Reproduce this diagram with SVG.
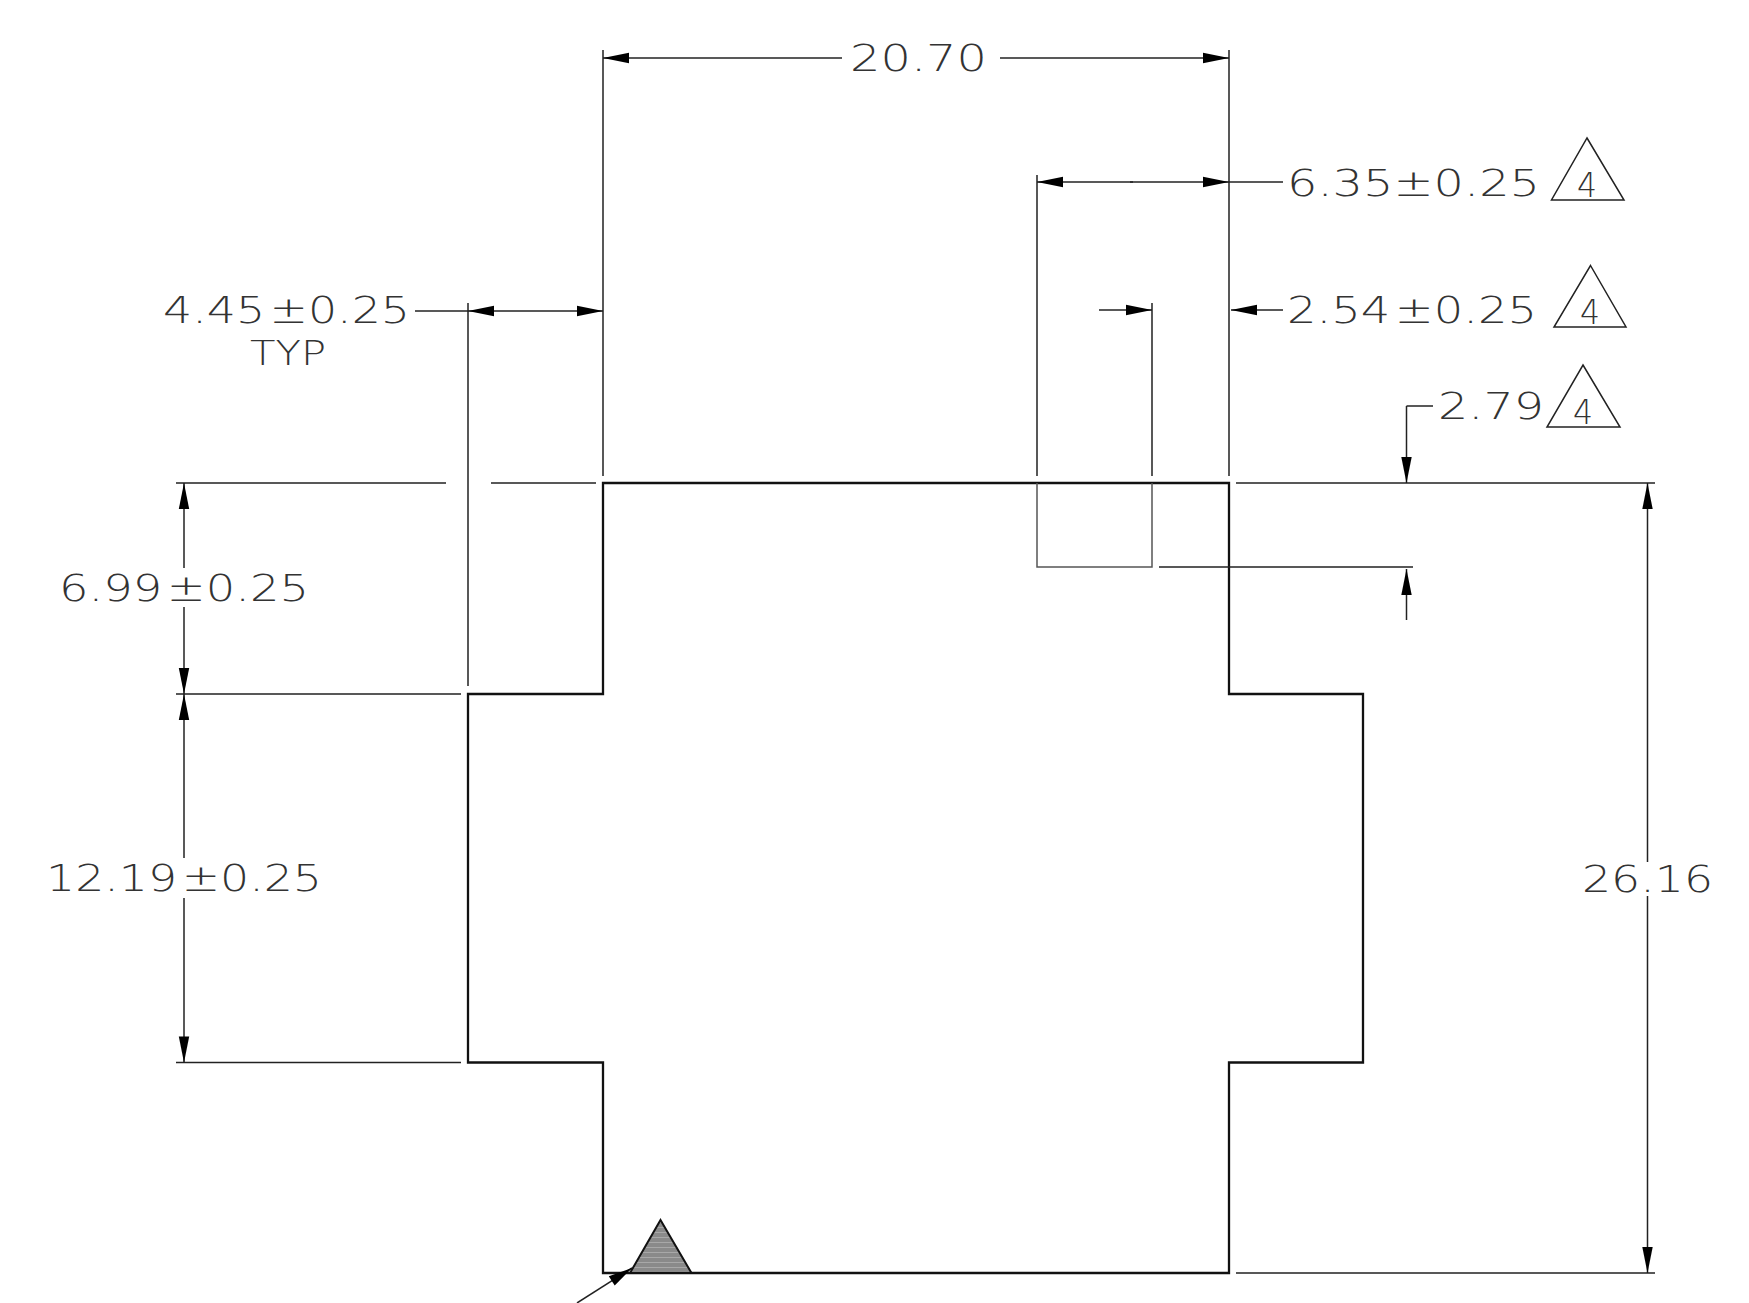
<svg xmlns="http://www.w3.org/2000/svg" width="1749" height="1303" viewBox="0 0 1749 1303">
<style>
text{font-family:"DejaVu Sans","Liberation Sans",sans-serif;font-weight:200;font-size:36.500px;fill:#333;word-spacing:-8px}
.n{font-size:33px}
.o{fill:none;stroke:#111;stroke-width:2.300}
.d{fill:none;stroke:#222;stroke-width:1.500}
.g{fill:none;stroke:#555;stroke-width:1.500}
.a{marker-end:url(#ah)}
.t{fill:#fff;stroke:#222;stroke-width:1.500}
</style>
<defs>
<marker id="ah" markerUnits="userSpaceOnUse" markerWidth="28" markerHeight="12" refX="27" refY="6" orient="auto"><path d="M1,0.800L27,6L1,11.200z" fill="#000"/></marker>
<marker id="ahs" markerUnits="userSpaceOnUse" markerWidth="28" markerHeight="14" refX="25" refY="7" orient="auto"><path d="M1,1.500L25,7L1,12.500z" fill="#000"/></marker>
<pattern id="hatch" patternUnits="userSpaceOnUse" width="6" height="5"><rect width="6" height="5" fill="#8a8a8a"/><rect y="2" width="6" height="1" fill="#a8a8a8"/></pattern>
</defs>
<g id="outline">
<path class="o" d="M603,483H1229V694H1363V1062.500H1229V1273H603V1062.500H468V694H603Z"/>
<path class="g" d="M1037,483V567H1152V483"/>
</g>
<g id="connectors">
<path class="d" d="M603,50V476M1229,50V476M1037,175V476M1152,303V476M468,303V686"/>
<path class="d" d="M176,483H446M491,483H596M1236,483H1655M176,694H461M176,1062.500H461M1236,1273H1655M1159,567H1413"/>
<path class="d a" d="M842,58H603"/><path class="d a" d="M1000,58H1229"/>
<path class="d a" d="M1133,182H1037"/><path class="d a" d="M1130,182H1229"/><path class="d" d="M1229,182H1283"/>
<path class="d a" d="M1099,310H1152"/><path class="d a" d="M1283,310H1231"/>
<path class="d" d="M1433,406H1406.500"/><path class="d a" d="M1406.500,406V483"/>
<path class="d a" d="M1406.500,620V569"/>
<path class="d a" d="M535,311H468"/><path class="d a" d="M535,311H603"/><path class="d" d="M415,311H468"/>
<path class="d a" d="M184,568V483"/><path class="d a" d="M184,607V694"/>
<path class="d a" d="M184,858V694"/><path class="d a" d="M184,898V1062.500"/>
<path class="d a" d="M1647.500,862V483"/><path class="d a" d="M1647.500,896V1273"/>
<path d="M577,1303L632,1268" class="d" marker-end="url(#ahs)"/>
</g>
<g id="datum"><path d="M660.500,1220L691.500,1273H630Z" fill="url(#hatch)" stroke="#111" stroke-width="2"/></g>
<g id="tri1"><path class="t" d="M1587,138L1624,200H1551.500Z"/><text class="n" x="1577" y="197" textLength="20" lengthAdjust="spacingAndGlyphs">4</text></g>
<g id="tri2"><path class="t" d="M1590.500,265.500L1626,327H1554Z"/><text class="n" x="1580" y="324" textLength="20" lengthAdjust="spacingAndGlyphs">4</text></g>
<g id="tri3"><path class="t" d="M1583,365L1620,427H1547Z"/><text class="n" x="1573" y="424" textLength="20" lengthAdjust="spacingAndGlyphs">4</text></g>
<g id="labels">
<text x="850" y="71" textLength="137" lengthAdjust="spacingAndGlyphs">20.70</text>
<text x="1287" y="196" textLength="253" lengthAdjust="spacingAndGlyphs">6.35±0.25</text>
<text x="1287" y="323" textLength="250" lengthAdjust="spacingAndGlyphs">2.54 ±0.25</text>
<text x="1438" y="419" textLength="106" lengthAdjust="spacingAndGlyphs">2.79</text>
<text x="163" y="323" textLength="247" lengthAdjust="spacingAndGlyphs">4.45 ±0.25</text>
<text x="250" y="365" textLength="76" lengthAdjust="spacingAndGlyphs" style="font-size:34px">TYP</text>
<text x="59" y="601" textLength="250" lengthAdjust="spacingAndGlyphs">6.99 ±0.25</text>
<text x="46" y="891" textLength="276" lengthAdjust="spacingAndGlyphs">12.19 ±0.25</text>
<text x="1582" y="892" textLength="131" lengthAdjust="spacingAndGlyphs">26.16</text>
</g>
</svg>
